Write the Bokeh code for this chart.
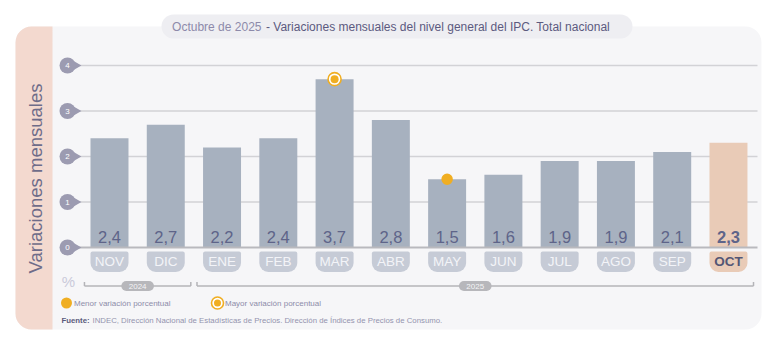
import numpy as np
from bokeh.plotting import figure
from bokeh.models import Range1d, ColumnDataSource
from bokeh.core.properties import value
from bokeh.embed import file_html
from bokeh.resources import INLINE

# ---------------- data ----------------
months = ["NOV", "DIC", "ENE", "FEB", "MAR", "ABR", "MAY", "JUN", "JUL", "AGO", "SEP", "OCT"]
values = [2.4, 2.7, 2.2, 2.4, 3.7, 2.8, 1.5, 1.6, 1.9, 1.9, 2.1, 2.3]
value_labels = ["2,4", "2,7", "2,2", "2,4", "3,7", "2,8", "1,5", "1,6", "1,9", "1,9", "2,1", "2,3"]
years = ["2024", "2025"]
year_counts = [2, 10]
y_ticks = [0, 1, 2, 3, 4]
y_tick_labels = ["0", "1", "2", "3", "4"]
title_date = "Octubre de 2025"
title_main = "- Variaciones mensuales del nivel general del IPC. Total nacional"
y_title = "Variaciones mensuales"
unit_label = "%"
legend_min = "Menor variación porcentual"
legend_max = "Mayor variación porcentual"
source_bold = "Fuente:"
source_text = "INDEC, Dirección Nacional de Estadísticas de Precios. Dirección de Índices de Precios de Consumo."

# ---------------- style ----------------
FONT = value("Liberation Sans")
BAR = "#A7B1BF"
HIGHLIGHT = "#E9CBB7"
PILL = "#C6CBD6"
ORANGE = "#F0AE22"
TEXT_DARK = "#5E6489"

W, H = 780, 347
X0, DX = 109, 56.27     # pixel position of first month, spacing
Y0, DY = 247, 45.5      # pixel position of 0, pixels per unit

p = figure(width=W, height=H, x_range=Range1d(0, W), y_range=Range1d(H, 0),
           output_backend="svg", toolbar_location=None, tools="", min_border=0)
p.axis.visible = False
p.grid.visible = False
p.outline_line_color = None
p.background_fill_color = "white"
p.border_fill_color = "white"
p.title.visible = False
p.extra_x_ranges = {"cat": Range1d(-X0 / DX, (W - X0) / DX)}
p.extra_y_ranges = {"val": Range1d(-(H - Y0) / DY, Y0 / DY)}

n = len(months)
idx = np.arange(n)
last = n - 1

# panel and left strip
p.quad(left=15, right=761, top=26, bottom=329, fill_color="#F6F6F8", line_color=None, border_radius=16)
p.quad(left=15, right=52, top=26, bottom=329, fill_color="#F3D9CF", line_color=None,
       border_radius=(16, 0, 0, 16))

# title pill
p.quad(left=161, right=632, top=14, bottom=38, fill_color="#EEEEF2", line_color=None, border_radius=12)
p.text(x=[261], y=[26.5], text=[title_date], text_font=FONT, text_font_size="12px",
       text_color="#8D8AAA", text_align="right", text_baseline="middle")
p.text(x=[265.5], y=[26.5], text=[title_main], text_font=FONT, text_font_size="12px",
       text_color="#5C5A7F", text_align="left", text_baseline="middle")

# y title
p.text(x=[35], y=[178], text=[y_title], angle=np.pi / 2, text_font=FONT, text_font_size="18.5px",
       text_color="#6E6C89", text_align="center", text_baseline="middle")

# gridlines
grid_y = [t for t in y_ticks if t != 0]
p.segment(x0=[76] * len(grid_y), x1=[757] * len(grid_y), y0=grid_y, y1=grid_y,
          y_range_name="val", line_color="#D2D2D6", line_width=1.6)

# bars
colors = [BAR] * n
colors[last] = HIGHLIGHT
src = ColumnDataSource(dict(x=idx, top=values, label=value_labels, month=months, color=colors,
                            style=["normal"] * last + ["bold"],
                            mcolor=["#F3F4F8"] * last + ["#545675"],
                            pcolor=[PILL] * last + [HIGHLIGHT]))
p.vbar(x="x", top="top", bottom=0, width=0.675, source=src, x_range_name="cat", y_range_name="val",
       fill_color="color", line_color=None)
p.segment(x0=[76], x1=[757], y0=[0], y1=[0], y_range_name="val", line_color="#B9B9BE", line_width=2)

# y tick teardrops
p.scatter(x=[74] * len(y_ticks), y=y_ticks, y_range_name="val", marker="triangle", angle=-np.pi / 2,
          size=12, fill_color="#9C9BB1", line_color=None)
p.scatter(x=[67] * len(y_ticks), y=y_ticks, y_range_name="val", marker="circle",
          size=16, fill_color="#9C9BB1", line_color=None)
p.text(x=[67] * len(y_ticks), y=y_ticks, text=y_tick_labels, y_range_name="val", text_font=FONT,
       text_font_size="8px", text_color="white", text_align="center", text_baseline="middle")

# value labels
p.text(x="x", y=236.5, text="label", source=src, x_range_name="cat", text_font=FONT,
       text_font_size="16.5px", text_color=TEXT_DARK, text_font_style="style",
       text_align="center", text_baseline="middle")

# month pills
p.quad(left=idx - 0.3375, right=idx + 0.3375, top=251, bottom=271.5, x_range_name="cat",
       fill_color=src.data["pcolor"], line_color=None, border_radius=(2, 2, 9, 9))
p.text(x="x", y=261, text="month", source=src, x_range_name="cat", text_font=FONT,
       text_font_size="13.5px", text_color="mcolor", text_font_style="style",
       text_align="center", text_baseline="middle")

# % label
p.text(x=[68], y=[281], text=[unit_label], text_font=FONT, text_font_size="15px",
       text_color="#CACADA", text_align="center", text_baseline="middle")

# year brackets
starts = np.cumsum([0] + year_counts[:-1])
ends = starts + np.array(year_counts) - 1
bl = starts - 0.445
br = ends + 0.445
p.segment(x0=bl, x1=br, y0=285.5, y1=285.5, x_range_name="cat", line_color="#B4B4B8", line_width=1.5)
p.segment(x0=bl, x1=bl, y0=281.5, y1=285.5, x_range_name="cat", line_color="#B4B4B8", line_width=1.5)
p.segment(x0=br, x1=br, y0=281.5, y1=285.5, x_range_name="cat", line_color="#B4B4B8", line_width=1.5)
bc = (bl + br) / 2
p.quad(left=bc - 0.29, right=bc + 0.29, top=280.5, bottom=290.5, x_range_name="cat",
       fill_color="#B7B7BB", line_color=None, border_radius=5)
p.text(x=bc, y=[285.8] * len(years), text=years, x_range_name="cat", text_font=FONT,
       text_font_size="8px", text_color="#F4F4F6", text_align="center", text_baseline="middle")

# min / max markers
imax = int(np.argmax(values))
imin = int(np.argmin(values))
p.scatter(x=[imax], y=[values[imax]], x_range_name="cat", y_range_name="val", size=13,
          fill_color="white", line_color=ORANGE, line_width=1.6)
p.scatter(x=[imax], y=[values[imax]], x_range_name="cat", y_range_name="val", size=8,
          fill_color=ORANGE, line_color=None)
p.scatter(x=[imin], y=[values[imin]], x_range_name="cat", y_range_name="val", size=11.5,
          fill_color=ORANGE, line_color=None)

# legend
p.scatter(x=[66], y=[302.5], size=11, fill_color=ORANGE, line_color=None)
p.text(x=[73.5], y=[302.5], text=[legend_min], text_font=FONT, text_font_size="8px",
       text_color="#8D8CA9", text_align="left", text_baseline="middle")
p.scatter(x=[217], y=[302.5], size=12, fill_color="white", line_color=ORANGE, line_width=1.6)
p.scatter(x=[217], y=[302.5], size=7, fill_color=ORANGE, line_color=None)
p.text(x=[224.5], y=[302.5], text=[legend_max], text_font=FONT, text_font_size="8px",
       text_color="#8D8CA9", text_align="left", text_baseline="middle")

# source
p.text(x=[61], y=[319.5], text=[source_bold], text_font=FONT, text_font_size="7.8px",
       text_font_style="bold", text_color="#5C5B7D", text_align="left", text_baseline="middle")
p.text(x=[92], y=[319.5], text=[source_text], text_font=FONT, text_font_size="7.8px",
       text_color="#9494AE", text_align="left", text_baseline="middle")

open("out.html", "w").write(file_html(p, INLINE))
